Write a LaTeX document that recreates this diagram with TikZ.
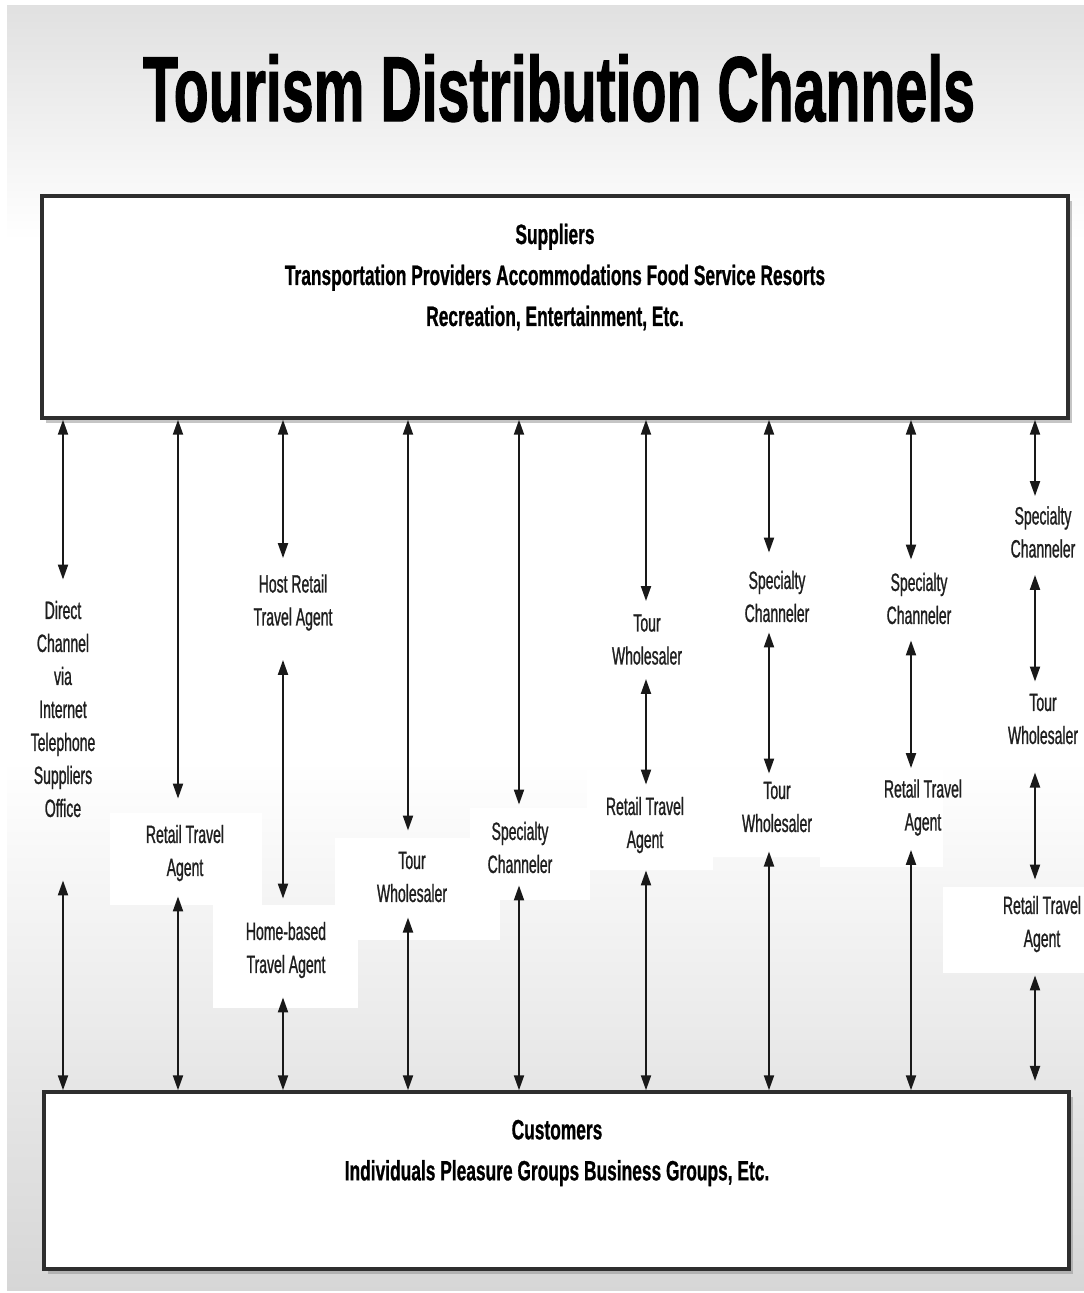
\documentclass[tikz,border=0pt]{standalone}
\usepackage{fontspec}
\setmainfont{Liberation Sans}
\newfontfamily\lblfont[FakeStretch=0.56,FakeBold=0.9]{Liberation Sans}
\newfontfamily\boxfont[FakeStretch=0.62,FakeBold=0.7]{Liberation Sans}
\newfontfamily\titlefont[FakeBold=1.6]{Liberation Sans}
\usetikzlibrary{arrows.meta,shadows}
\tikzset{
  lbl/.style={font={\lblfont\fontsize{18.75}{24.75}\selectfont}, align=center, inner sep=0pt, text=black!88},
  boxtxt/.style={font={\boxfont\bfseries\fontsize{21}{30.75}\selectfont}, align=center, inner sep=0pt, text=black},
  bigbox/.style={draw=black!82, line width=2.6pt, fill=white, inner sep=0pt,
     drop shadow={shadow xshift=3pt, shadow yshift=-3.5pt, fill=black!45}},
  dbl/.style={line width=1.5pt, draw=black!90,
     {Triangle[length=11.25pt,width=7.5pt]}-{Triangle[length=11.25pt,width=7.5pt]}},
  whitepatch/.style={fill=white, draw=none}
}
\begin{document}
\begin{tikzpicture}[x=0.75pt, y=-0.75pt]
\useasboundingbox (0,0) rectangle (1084,1293);
% background
\fill[white] (0,0) rectangle (1084,1293);
\shade[top color=black!12, bottom color=white] (7,5) rectangle (1084,240);
\fill[white] (7,239) rectangle (1084,761);
\shade[top color=white, bottom color=black!16] (7,760) rectangle (1084,1290);
% white patches behind lower labels
\fill[whitepatch] (110,813) rectangle (262,905);
\fill[whitepatch] (213,905) rectangle (358,1008);
\fill[whitepatch] (335,838) rectangle (500,940);
\fill[whitepatch] (470,808) rectangle (590,900);
\fill[whitepatch] (587,770) rectangle (713,870);
\fill[whitepatch] (713,770) rectangle (820,857);
\fill[whitepatch] (820,770) rectangle (943,867);
\fill[whitepatch] (943,887) rectangle (1084,973);

% title
\node[anchor=base, inner sep=0pt] (title) at (559,121)
  {\resizebox{624pt}{50pt}{\titlefont\bfseries Tourism Distribution Channels}};

% boxes
\node[bigbox, minimum width=769.5pt, minimum height=166.5pt] (sup) at (555,307) {};
\node[boxtxt] (suptxt) at (555,277) {Suppliers\\Transportation Providers Accommodations Food Service Resorts\\Recreation, Entertainment, Etc.};
\node[bigbox, minimum width=768.75pt, minimum height=132.75pt] (cust) at (556.5,1180.5) {};
\node[boxtxt] (custtxt) at (557,1153) {Customers\\Individuals Pleasure Groups Business Groups, Etc.};

% column coordinates
\coordinate (c1) at (63,0);
\coordinate (c2) at (178,0);
\coordinate (c3) at (283,0);
\coordinate (c4) at (408,0);
\coordinate (c5) at (519,0);
\coordinate (c6) at (646,0);
\coordinate (c7) at (769,0);
\coordinate (c8) at (911,0);
\coordinate (c9) at (1035,0);

% labels
\node[lbl] (l1) at (63,709) {Direct\\Channel\\via\\Internet\\Telephone\\Suppliers\\Office};
\node[lbl] (l2) at (185,853) {Retail Travel\\Agent};
\node[lbl] (l3a) at (293,602.5) {Host Retail\\Travel Agent};
\node[lbl] (l3b) at (286,950) {Home-based\\Travel Agent};
\node[lbl] (l4) at (412,877) {Tour\\Wholesaler};
\node[lbl] (l5) at (520,847.5) {Specialty\\Channeler};
\node[lbl] (l6a) at (647,639.5) {Tour\\Wholesaler};
\node[lbl] (l6b) at (645,825) {Retail Travel\\Agent};
\node[lbl] (l7a) at (777,596.5) {Specialty\\Channeler};
\node[lbl] (l7b) at (777,807) {Tour\\Wholesaler};
\node[lbl] (l8a) at (919,598.5) {Specialty\\Channeler};
\node[lbl] (l8b) at (923,807.5) {Retail Travel\\Agent};
\node[lbl] (l9a) at (1043,532) {Specialty\\Channeler};
\node[lbl] (l9b) at (1043,719) {Tour\\Wholesaler};
\node[lbl] (l9c) at (1042,924) {Retail Travel\\Agent};

% column 1
\draw[dbl, shorten >=15.75pt] (sup.south -| c1) -- (l1.north -| c1);
\draw[dbl, shorten <=47.25pt] (l1.south -| c1) -- (cust.north -| c1);
% column 2
\draw[dbl, shorten >=19.5pt] (sup.south -| c2) -- (l2.north -| c2);
\draw[dbl, shorten <=11.25pt] (l2.south -| c2) -- (cust.north -| c2);
% column 3
\draw[dbl, shorten >=12pt] (sup.south -| c3) -- (l3a.north -| c3);
\draw[dbl, shorten <=21.75pt, shorten >=17.25pt] (l3a.south -| c3) -- (l3b.north -| c3);
\draw[dbl, shorten <=14.25pt] (l3b.south -| c3) -- (cust.north -| c3);
% column 4
\draw[dbl, shorten >=15.75pt] (sup.south -| c4) -- (l4.north -| c4);
\draw[dbl, shorten <=11.25pt] (l4.south -| c4) -- (cust.north -| c4);
% column 5
\draw[dbl, shorten >=12.75pt] (sup.south -| c5) -- (l5.north -| c5);
\draw[dbl, shorten <=9pt] (l5.south -| c5) -- (cust.north -| c5);
% column 6
\draw[dbl, shorten >=9.75pt] (sup.south -| c6) -- (l6a.north -| c6);
\draw[dbl, shorten <=10.5pt, shorten >=9pt] (l6a.south -| c6) -- (l6b.north -| c6);
\draw[dbl, shorten <=12.75pt] (l6b.south -| c6) -- (cust.north -| c6);
% column 7
\draw[dbl, shorten >=13.5pt] (sup.south -| c7) -- (l7a.north -| c7);
\draw[dbl, shorten <=7.5pt, shorten >=6pt] (l7a.south -| c7) -- (l7b.north -| c7);
\draw[dbl, shorten <=14.25pt] (l7b.south -| c7) -- (cust.north -| c7);
% column 8
\draw[dbl, shorten >=9.75pt] (sup.south -| c8) -- (l8a.north -| c8);
\draw[dbl, shorten <=12pt, shorten >=8.25pt] (l8a.south -| c8) -- (l8b.north -| c8);
\draw[dbl, shorten <=10.5pt] (l8b.south -| c8) -- (cust.north -| c8);
% column 9
\draw[dbl, shorten >=7.5pt] (sup.south -| c9) -- (l9a.north -| c9);
\draw[dbl, shorten <=12.75pt, shorten >=9pt] (l9a.south -| c9) -- (l9b.north -| c9);
\draw[dbl, shorten <=21pt, shorten >=12pt] (l9b.south -| c9) -- (l9c.north -| c9);
\draw[dbl, shorten <=17.25pt, shorten >=7pt] (l9c.south -| c9) -- (cust.north -| c9);
\end{tikzpicture}
\end{document}
